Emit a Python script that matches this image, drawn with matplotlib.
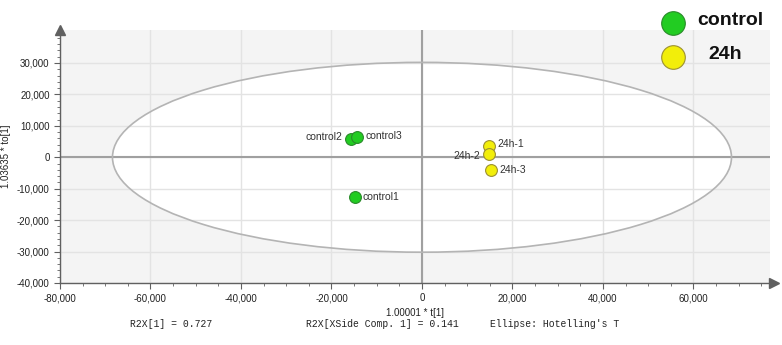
import matplotlib
matplotlib.use("Agg")
import matplotlib.pyplot as plt
from matplotlib.patches import Ellipse
from matplotlib.lines import Line2D
from matplotlib.ticker import FuncFormatter, MultipleLocator

# scores
sample_names = ["control1", "control2", "control3", "24h-1", "24h-2", "24h-3"]
t1 = [-14900, -15700, -14300, 14900, 14700, 15300]
to1 = [-12600, 5950, 6470, 3500, 950, -4100]
groups = ["control", "control", "control", "24h", "24h", "24h"]

group_names = ["control", "24h"]
group_face = {"control": "#22cc22", "24h": "#f2ee0a"}
group_edge = {"control": "#2a8a2a", "24h": "#9c9030"}

# Hotelling's T2 ellipse half-axes
ell_a = 68400
ell_b = 30200

# label placement: (dx, dy in points, ha)
label_pos = {
    "control1": (6, 0, "left"),
    "control2": (-6, 1, "right"),
    "control3": (6, 1, "left"),
    "24h-1": (6, 2, "left"),
    "24h-2": (-6, -1, "right"),
    "24h-3": (6, 0, "left"),
}

fig = plt.figure(figsize=(7.82, 3.45), dpi=100)
ax = fig.add_axes([60 / 782, 62 / 345, 710.4 / 782, 253 / 345])
ax.set_xlim(-80000, 77000)
ax.set_ylim(-40000, 40500)
ax.set_facecolor("#f4f4f4")

ax.add_patch(Ellipse((0, 0), 2 * ell_a, 2 * ell_b, facecolor="white",
                     edgecolor="none", zorder=0.1))
ax.add_patch(Ellipse((0, 0), 2 * ell_a, 2 * ell_b, facecolor="none",
                     edgecolor="#b4b4b4", lw=1.2, zorder=2))

ax.xaxis.set_major_locator(MultipleLocator(20000))
ax.xaxis.set_minor_locator(MultipleLocator(5000))
ax.yaxis.set_major_locator(MultipleLocator(10000))
ax.yaxis.set_minor_locator(MultipleLocator(2000))
ax.set_axisbelow(True)
ax.grid(True, which="major", color="#e3e3e3", lw=1.0)

ax.axhline(0, color="#a0a0a0", lw=1.5, zorder=1)
ax.axvline(0, color="#a0a0a0", lw=1.5, zorder=1)

fmt = FuncFormatter(lambda v, p: "{:,.0f}".format(v))
ax.xaxis.set_major_formatter(fmt)
ax.yaxis.set_major_formatter(fmt)
ax.set_xticks([v for v in range(-80000, 60001, 20000)])
ax.set_yticks([v for v in range(-40000, 30001, 10000)])

for s in ["top", "right"]:
    ax.spines[s].set_visible(False)
for s in ["left", "bottom"]:
    ax.spines[s].set_color("#606060")
    ax.spines[s].set_linewidth(1.0)
ax.tick_params(which="major", length=4, color="#606060", labelsize=7,
               labelcolor="#222222")
ax.tick_params(which="minor", length=2, color="#606060")
for lab in ax.get_xticklabels() + ax.get_yticklabels():
    lab.set_fontfamily("Liberation Sans")

# axis arrows
ax.plot(0, 1, marker="^", markersize=7, color="#606060", transform=ax.transAxes,
        clip_on=False, zorder=5)
ax.plot(1.005, 0, marker=">", markersize=7, color="#606060", transform=ax.transAxes,
        clip_on=False, zorder=5)

for name, x, y, g in zip(sample_names, t1, to1, groups):
    ax.plot(x, y, "o", markersize=8.5, markerfacecolor=group_face[g],
            markeredgecolor=group_edge[g], markeredgewidth=0.8, zorder=4)
    dx, dy, ha = label_pos[name]
    ax.annotate(name, (x, y), xytext=(dx, dy), textcoords="offset points",
                ha=ha, va="center", fontsize=7.5, family="Liberation Sans",
                color="#333333", zorder=5)

ax.set_xlabel("1.00001 * t[1]", fontsize=7, family="Liberation Sans",
              color="#222222", labelpad=3)
ax.set_ylabel("1.03635 * to[1]", fontsize=7, family="Liberation Sans",
              color="#222222", labelpad=4)

fig.text(130 / 782, 1 - 324 / 345, "R2X[1] = 0.727", fontsize=7,
         family="Liberation Mono", va="center", color="#222222")
fig.text(306 / 782, 1 - 324 / 345, "R2X[XSide Comp. 1] = 0.141", fontsize=7,
         family="Liberation Mono", va="center", color="#222222")
fig.text(490 / 782, 1 - 324 / 345, "Ellipse: Hotelling's T", fontsize=7,
         family="Liberation Mono", va="center", color="#222222")

# pasted legend top right
leg_y = [22.7, 56.7]
leg_tx = [697, 708]
for g, yy, tx in zip(group_names, leg_y, leg_tx):
    fig.add_artist(Line2D([673 / 782], [1 - yy / 345], marker="o", markersize=17,
                          markerfacecolor=group_face[g], markeredgecolor=group_edge[g],
                          markeredgewidth=0.8, transform=fig.transFigure))
    fig.text(tx / 782, 1 - (yy - 2) / 345, g, fontsize=14, fontweight="bold",
             family="Liberation Sans", va="center", ha="left", color="#111111")

fig.savefig("out.png", dpi=100)
